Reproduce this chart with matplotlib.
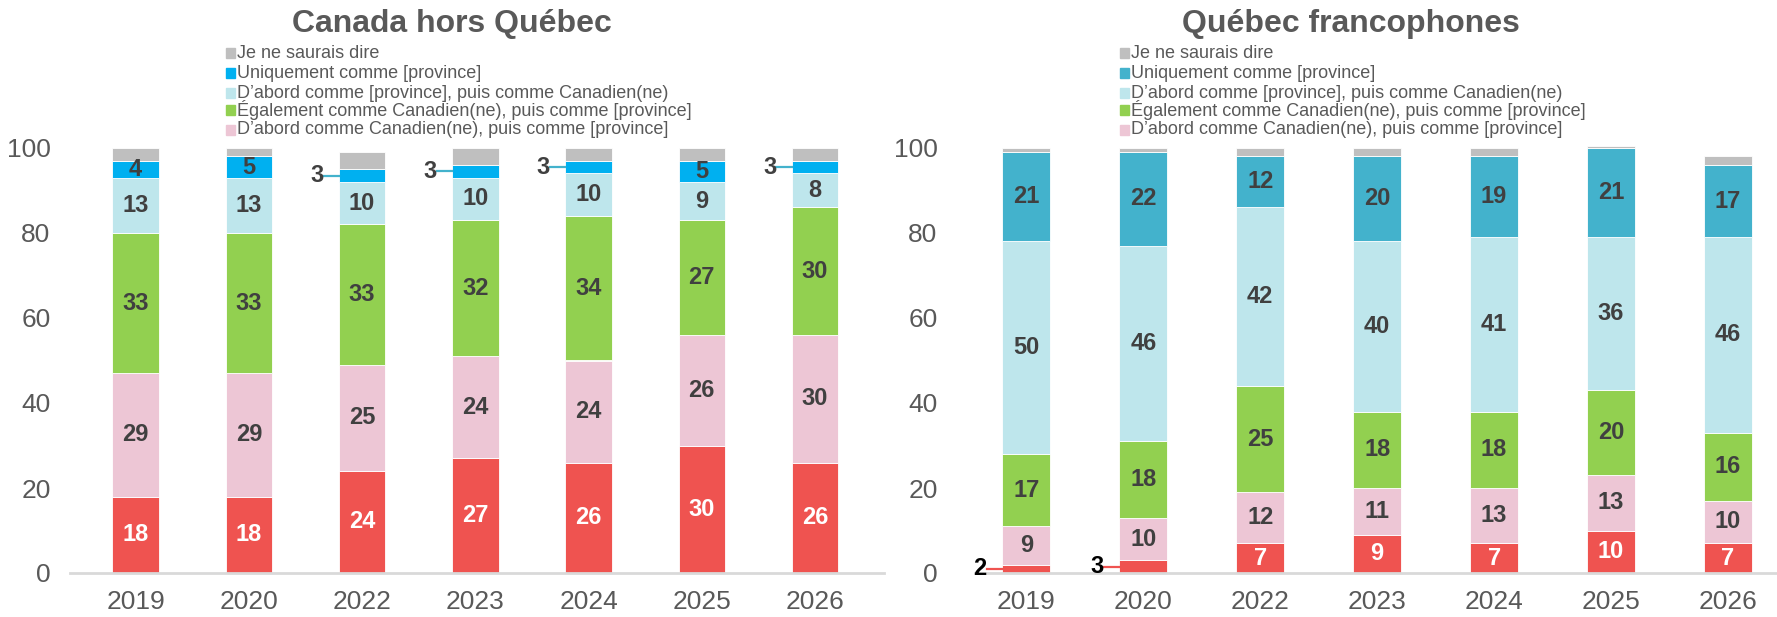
import numpy as np
import matplotlib
matplotlib.use('Agg')
import matplotlib.pyplot as plt
from matplotlib.patches import Rectangle

plt.rcParams['font.family'] = ['Liberation Sans', 'DejaVu Sans']

years = ['2019', '2020', '2022', '2023', '2024', '2025', '2026']

# Canada hors Québec (bottom to top)
roc_canadien = [18, 18, 24, 27, 26, 30, 26]
roc_abord_can = [29, 29, 25, 24, 24, 26, 30]
roc_egalement = [33, 33, 33, 32, 34, 27, 30]
roc_abord_prov = [13, 13, 10, 10, 10, 9, 8]
roc_uniq_prov = [4, 5, 3, 3, 3, 5, 3]
roc_nsp = [3, 2, 4, 4, 3, 3, 3]

# Québec francophones
qc_canadien = [2, 3, 7, 9, 7, 10, 7]
qc_abord_can = [9, 10, 12, 11, 13, 13, 10]
qc_egalement = [17, 18, 25, 18, 18, 20, 16]
qc_abord_prov = [50, 46, 42, 40, 41, 36, 46]
qc_uniq_prov = [21, 22, 12, 20, 19, 21, 17]
qc_nsp = [1, 1, 2, 2, 2, 0.5, 2]

legend_labels = ['Je ne saurais dire',
                 'Uniquement comme [province]',
                 "D\u2019abord comme [province], puis comme Canadien(ne)",
                 '\u00c9galement comme Canadien(ne), puis comme [province]',
                 "D\u2019abord comme Canadien(ne), puis comme [province]"]

red = '#EF5350'
pink = '#EDC6D5'
green = '#92D050'
lblue = '#BEE6EC'
gray = '#BFBFBF'
txt = '#595959'
lab = '#404040'
roc_blue = '#00B0F0'
qc_blue = '#43B2CC'

W, H = 1777, 617
fig = plt.figure(figsize=(W / 100, H / 100), dpi=100)
ax1 = fig.add_axes([70 / W, 44 / H, 814 / W, 425 / H])
ax2 = fig.add_axes([975 / W, 44 / H, 802 / W, 425 / H])


def draw(ax, series, colors, xlim, ypad, small_idx, small_color, small_txt):
    x = np.arange(len(years))
    bottom = np.zeros(len(years))
    for k, (vals, col) in enumerate(zip(series, colors)):
        vals = np.array(vals, dtype=float)
        ax.bar(x, vals, 0.41, bottom=bottom, color=col, edgecolor='white',
               linewidth=0.6, clip_on=False, zorder=2)
        if k < len(series) - 1:
            for i in range(len(years)):
                yc = bottom[i] + vals[i] / 2
                if vals[i] <= 3:
                    if k == small_idx:
                        ax.text(i - 0.40, yc, '%d' % vals[i], ha='center', va='center',
                                fontsize=17, fontweight='bold', color=small_txt)
                        ax.plot([i - 0.34, i - 0.205], [yc, yc], color=small_color,
                                lw=1.6, clip_on=False)
                else:
                    c = 'white' if k == 0 else lab
                    ax.text(i, yc, '%d' % vals[i], ha='center', va='center',
                            fontsize=17, fontweight='bold', color=c, zorder=3)
        bottom += vals
    ax.set_xlim(*xlim)
    ax.set_ylim(0, 100)
    ax.set_yticks([0, 20, 40, 60, 80, 100])
    ax.set_xticks(x)
    ax.set_xticklabels(years)
    for s in ['top', 'right', 'left']:
        ax.spines[s].set_visible(False)
    ax.spines['bottom'].set_color('#D9D9D9')
    ax.spines['bottom'].set_linewidth(2)
    ax.tick_params(axis='y', length=0, pad=ypad, labelsize=19, labelcolor=txt)
    ax.tick_params(axis='x', length=0, pad=12, labelsize=19, labelcolor=txt)


draw(ax1, [roc_canadien, roc_abord_can, roc_egalement, roc_abord_prov, roc_uniq_prov, roc_nsp],
     [red, pink, green, lblue, roc_blue, gray], (-0.58, 6.61), 14, 4, '#43B2CC', lab)
draw(ax2, [qc_canadien, qc_abord_can, qc_egalement, qc_abord_prov, qc_uniq_prov, qc_nsp],
     [red, pink, green, lblue, qc_blue, gray], (-0.44, 6.42), 27, 0, red, 'black')

fig.text(452 / W, 1 - 24 / H, 'Canada hors Qu\u00e9bec', ha='center', va='center',
         fontsize=23, fontweight='bold', color=txt)
fig.text(1351 / W, 1 - 24 / H, 'Qu\u00e9bec francophones', ha='center', va='center',
         fontsize=23, fontweight='bold', color=txt)

# legends drawn by hand to keep the uneven row spacing
rows_y = [53, 73, 93, 110, 130]
for lx, blue in [(226, roc_blue), (1120, qc_blue)]:
    cols = [gray, blue, lblue, green, pink]
    for yy, c, t in zip(rows_y, cols, legend_labels):
        fig.patches.append(Rectangle(((lx) / W, 1 - (yy + 5) / H), 9 / W, 10 / H,
                                     color=c, transform=fig.transFigure, figure=fig))
        fig.text((lx + 11) / W, 1 - yy / H, t, ha='left', va='center',
                 fontsize=13, color=txt)

fig.savefig('out.png', dpi=100)
